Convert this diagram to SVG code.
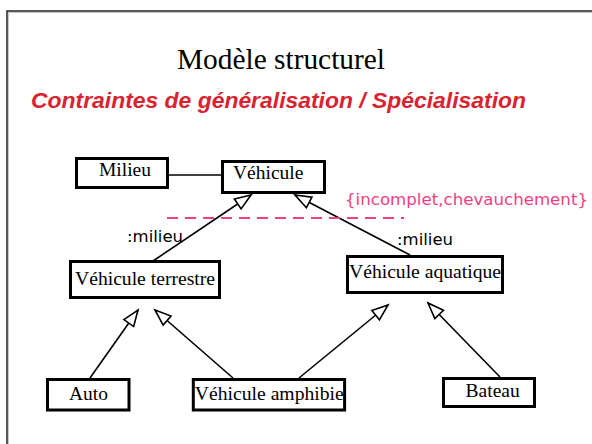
<svg xmlns="http://www.w3.org/2000/svg" width="592" height="444" viewBox="0 0 592 444">
<style>
.box{fill:#fff;stroke:#000;stroke-width:3}
.lbl{font-family:"Liberation Serif","Times New Roman",serif;font-size:19.5px;fill:#000}
.con{stroke:#000;stroke-width:1.6;fill:none}
.gen{marker-end:url(#tri)}
.role{font-family:"DejaVu Sans",Verdana,sans-serif;font-size:16px;fill:#000}
</style>
<defs>
<marker id="tri" markerUnits="userSpaceOnUse" markerWidth="20" markerHeight="16" viewBox="-1 -8 19 16" refX="16" refY="0" orient="auto">
<path d="M0,-6 L16,0 L0,6 Z" fill="#fff" stroke="#000" stroke-width="1.6" stroke-linejoin="miter"/>
</marker>
</defs>
<rect width="592" height="444" fill="#fff"/>
<rect x="8.5" y="12.5" width="600" height="450" fill="none" stroke="#c8c8c8" stroke-width="1"/>
<rect x="7" y="11" width="600" height="450" fill="none" stroke="#222" stroke-width="1.5"/>
<text x="177" y="69" font-family="Liberation Serif,'Times New Roman',serif" font-size="29.5" textLength="208" lengthAdjust="spacingAndGlyphs">Modèle structurel</text>
<text x="31" y="108" font-family="Liberation Sans,Arial,sans-serif" font-size="22.7" font-weight="bold" font-style="italic" fill="#d9232f" textLength="495" lengthAdjust="spacingAndGlyphs">Contraintes de généralisation / Spécialisation</text>
<g id="connectors">
<line class="con" x1="169" y1="175" x2="221" y2="175"/>
<line class="con gen" x1="153" y1="261" x2="251" y2="195"/>
<line class="con gen" x1="410" y1="255" x2="295" y2="195"/>
<line class="con gen" x1="90" y1="378" x2="138" y2="310"/>
<line class="con gen" x1="233" y1="378" x2="155" y2="310"/>
<line class="con gen" x1="299" y1="378" x2="388" y2="305"/>
<line class="con gen" x1="500" y1="377" x2="428" y2="303"/>
<line x1="167" y1="218" x2="404" y2="218" stroke="#f0417f" stroke-width="2" stroke-dasharray="11,7"/>
<text x="345" y="205" font-family="DejaVu Sans,Verdana,sans-serif" font-size="16" fill="#f0417f" textLength="243" lengthAdjust="spacingAndGlyphs">{incomplet,chevauchement}</text>
<text class="role" x="127" y="242" textLength="56" lengthAdjust="spacingAndGlyphs">:milieu</text>
<text class="role" x="397" y="245" textLength="56" lengthAdjust="spacingAndGlyphs">:milieu</text>
</g>
<g id="milieu"><rect class="box" x="76.5" y="158.5" width="91" height="29"/><text class="lbl" x="99" y="176">Milieu</text></g>
<g id="vehicule"><rect class="box" x="222.5" y="161.5" width="102" height="31"/><text class="lbl" x="233" y="179">Véhicule</text></g>
<g id="vehicule-terrestre"><rect class="box" x="70.5" y="261.5" width="149" height="36"/><text class="lbl" x="75" y="285" textLength="140" lengthAdjust="spacingAndGlyphs">Véhicule terrestre</text></g>
<g id="vehicule-aquatique"><rect class="box" x="347.5" y="256.5" width="155" height="36"/><text class="lbl" x="349" y="278" textLength="152" lengthAdjust="spacingAndGlyphs">Véhicule aquatique</text></g>
<g id="auto"><rect class="box" x="47.5" y="379.5" width="81.5" height="30.5"/><text class="lbl" x="69" y="399.5">Auto</text></g>
<g id="vehicule-amphibie"><rect class="box" x="193.3" y="379.5" width="151.3" height="30.5"/><text class="lbl" x="194.8" y="399.5" textLength="149" lengthAdjust="spacingAndGlyphs">Véhicule amphibie</text></g>
<g id="bateau"><rect class="box" x="443.5" y="378.5" width="91" height="28"/><text class="lbl" x="465.6" y="397">Bateau</text></g>
</svg>
